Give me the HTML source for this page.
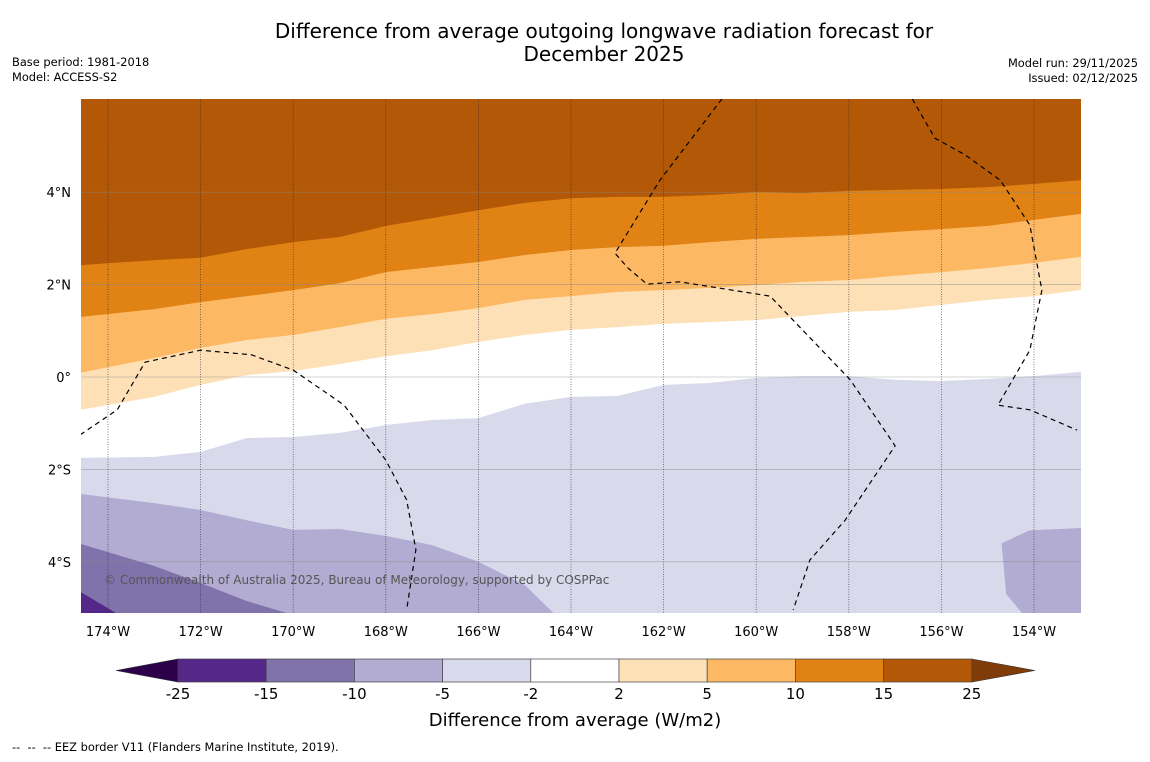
<!DOCTYPE html>
<html><head><meta charset="utf-8">
<style>
body{margin:0;background:#fff;font-family:"DejaVu Sans","Liberation Sans",sans-serif;}
svg text{font-family:"DejaVu Sans","Liberation Sans",sans-serif;}
</style></head>
<body>
<svg id="chart" width="1150" height="758" xmlns="http://www.w3.org/2000/svg">
<text x="604" y="38" text-anchor="middle" font-size="20">Difference from average outgoing longwave radiation forecast for</text>
<text x="604" y="61" text-anchor="middle" font-size="20">December 2025</text>
<text x="12" y="66" font-size="11.4">Base period: 1981-2018</text>
<text x="12" y="81" font-size="11.4">Model: ACCESS-S2</text>
<text x="1138" y="67" font-size="11.4" text-anchor="end">Model run: 29/11/2025</text>
<text x="1138" y="82" font-size="11.4" text-anchor="end">Issued: 02/12/2025</text>
<defs><clipPath id="mapclip"><rect x="81" y="99" width="1000" height="514"/></clipPath></defs>
<g id="map" clip-path="url(#mapclip)"></g>
<g id="axes"></g>
<g id="cbar"></g>
<text x="575" y="726" text-anchor="middle" font-size="18">Difference from average (W/m2)</text>
<text x="12" y="751" font-size="11.4">-- &nbsp;-- &nbsp;-- EEZ border V11 (Flanders Marine Institute, 2019).</text>
</svg>
<script>
const lons=[-174.6,-173,-172,-171,-170,-169,-168,-167,-166,-165,-164,-163,-162,-161,-160,-159,-158,-157,-156,-155,-154,-153];
const c15=[2.42,2.53,2.58,2.77,2.92,3.03,3.27,3.44,3.61,3.77,3.87,3.90,3.90,3.94,4.00,3.98,4.03,4.05,4.07,4.11,4.18,4.26];
const c10=[1.30,1.47,1.62,1.75,1.88,2.03,2.27,2.38,2.49,2.64,2.75,2.81,2.84,2.92,2.99,3.03,3.07,3.14,3.20,3.27,3.40,3.53];
const c5=[0.09,0.41,0.63,0.80,0.91,1.08,1.26,1.36,1.49,1.67,1.75,1.84,1.88,1.93,1.99,2.06,2.10,2.19,2.27,2.36,2.47,2.60];
const c2=[-0.71,-0.43,-0.17,0.04,0.13,0.28,0.45,0.58,0.76,0.91,1.02,1.08,1.15,1.19,1.23,1.32,1.41,1.45,1.56,1.67,1.75,1.88];
const cm2=[-1.75,-1.73,-1.62,-1.32,-1.30,-1.21,-1.04,-0.93,-0.89,-0.58,-0.43,-0.41,-0.17,-0.13,-0.02,0.02,0.02,-0.06,-0.09,-0.04,0.02,0.11];
const cm5=[-2.53,-2.73,-2.88,-3.10,-3.31,-3.29,-3.44,-3.64,-4.00,-4.50,-5.48,-6,-6,-6,-6,-6,-6,-6,-6,-6,-6,-6];
const cm10=[-3.61,-4.09,-4.46,-4.85,-5.15,-6,-6,-6,-6,-6,-6,-6,-6,-6,-6,-6,-6,-6,-6,-6,-6,-6];
const cm15=[-4.65,-5.6,-6,-6,-6,-6,-6,-6,-6,-6,-6,-6,-6,-6,-6,-6,-6,-6,-6,-6,-6,-6];
const blobLon=[-154.7,-154.1,-152.8,-152.8,-154.1,-154.6];
const blobLat=[-3.6,-3.32,-3.26,-5.3,-5.3,-4.7];
const lonTicks=[-174,-172,-170,-168,-166,-164,-162,-160,-158,-156,-154];
const latTicks=[4,2,0,-2,-4];
const latLabels=["4°N","2°N","0°","2°S","4°S"];
const levels=["-25","-15","-10","-5","-2","2","5","10","15","25"];
const cbColors=["#542788","#8073ac","#b2abd2","#d8daeb","#ffffff","#fee0b6","#fdb863","#e08214","#b35806"];
const eez1Lon=[-174.6,-173.8,-173.2,-172.0,-170.9,-170.0,-168.9,-168.0,-167.55,-167.35,-167.55];
const eez1Lat=[-1.25,-0.71,0.32,0.58,0.48,0.15,-0.61,-1.8,-2.66,-3.74,-5.04];
const eez2Lon=[-160.74,-162.08,-163.05,-162.77,-162.36,-161.65,-159.70,-157.97,-157.0,-158.08,-158.84,-159.2];
const eez2Lat=[6.02,4.26,2.68,2.36,2.01,2.06,1.75,-0.06,-1.49,-3.10,-3.96,-5.04];
const eez3Lon=[-156.63,-156.14,-155.49,-154.73,-154.09,-153.83,-154.09,-154.78,-154.09,-153.07];
const eez3Lat=[6.02,5.17,4.81,4.26,3.29,1.88,0.58,-0.61,-0.71,-1.15];

const X=lon=>108+(lon+174)*46.3;
const Y=lat=>377-lat*46.2;
const NS="http://www.w3.org/2000/svg";
function mk(tag,attrs,parent){const e=document.createElementNS(NS,tag);for(const k in attrs)e.setAttribute(k,attrs[k]);parent.appendChild(e);return e;}
const map=document.getElementById('map');
const bg=mk('rect',{x:81,y:99,width:1000,height:514,fill:'#b35806'},map);


const bands=[[c15,'#e08214','band-10-15'],[c10,'#fdb863','band-5-10'],[c5,'#fee0b6','band-2-5'],[c2,'#ffffff','band-neutral'],[cm2,'#d8daeb','band-minus2-minus5'],[cm5,'#b2abd2','band-minus5-minus10'],[cm10,'#8073ac','band-minus10-minus15'],[cm15,'#542788','band-below-minus15']];
bands.forEach(([c,col,name])=>{
  let pts=lons.map((l,i)=>X(l)+','+Y(c[i]));
  pts.push('1100,'+Y(c[c.length-1]));
  pts.push('1100,700');pts.push('60,700');pts.push('60,'+Y(c[0]));
  const p=mk('polygon',{points:pts.join(' '),fill:col},map);
  
  
});
const bp=mk('polygon',{points:blobLon.map((l,i)=>X(l)+','+Y(blobLat[i])).join(' '),fill:'#b2abd2'},map);


latTicks.forEach(t=>{
  const l=mk('line',{x1:81,x2:1081,y1:Y(t),y2:Y(t),stroke:'#888',"stroke-width":0.6,opacity:0.7},map);
  
  
});
lonTicks.forEach(t=>{
  const l=mk('line',{x1:X(t),x2:X(t),y1:99,y2:613,stroke:'#223',"stroke-width":0.7,"stroke-dasharray":"1,1.5",opacity:0.8},map);
  
  
});
[[eez1Lon,eez1Lat],[eez2Lon,eez2Lat],[eez3Lon,eez3Lat]].forEach(([lo,la])=>{
  const p=mk('polyline',{points:lo.map((l,i)=>X(l)+','+Y(la[i])).join(' '),fill:'none',stroke:'#000',"stroke-width":1.2,"stroke-dasharray":"5,4"},map);
  
  
});
const cr=mk('text',{x:104,y:584,"font-size":12,fill:'#555'},map);
cr.textContent='© Commonwealth of Australia 2025, Bureau of Meteorology, supported by COSPPac';


const ax=document.getElementById('axes');
lonTicks.forEach(t=>{
  const tx=mk('text',{x:X(t),y:636,"text-anchor":"middle","font-size":13},ax);
  tx.textContent=Math.abs(t)+'°W';
  
  
});
latTicks.forEach((t,i)=>{
  const tx=mk('text',{x:71,y:Y(t)+5,"text-anchor":"end","font-size":13},ax);
  tx.textContent=latLabels[i];
  
  
});
const cb=document.getElementById('cbar');
const x0=178,w=88.2,y0=659,h=23;
const lt=mk('polygon',{points:`116,670.5 ${x0},${y0} ${x0},${y0+h}`,fill:'#2d004b',stroke:'#333',"stroke-width":0.6},cb);


const xe=x0+w*cbColors.length;
const rt=mk('polygon',{points:`${xe},${y0} 1035,670.5 ${xe},${y0+h}`,fill:'#7f3b08',stroke:'#333',"stroke-width":0.6},cb);


cbColors.forEach((c,i)=>{
  const r=mk('rect',{x:x0+i*w,y:y0,width:w,height:h,fill:c,stroke:'#444',"stroke-width":0.7},cb);
  
  
});
levels.forEach((lv,i)=>{
  const tx=mk('text',{x:x0+i*w,y:699,"text-anchor":"middle","font-size":15},cb);
  tx.textContent=lv;
  
  
});
</script>
</body></html>
